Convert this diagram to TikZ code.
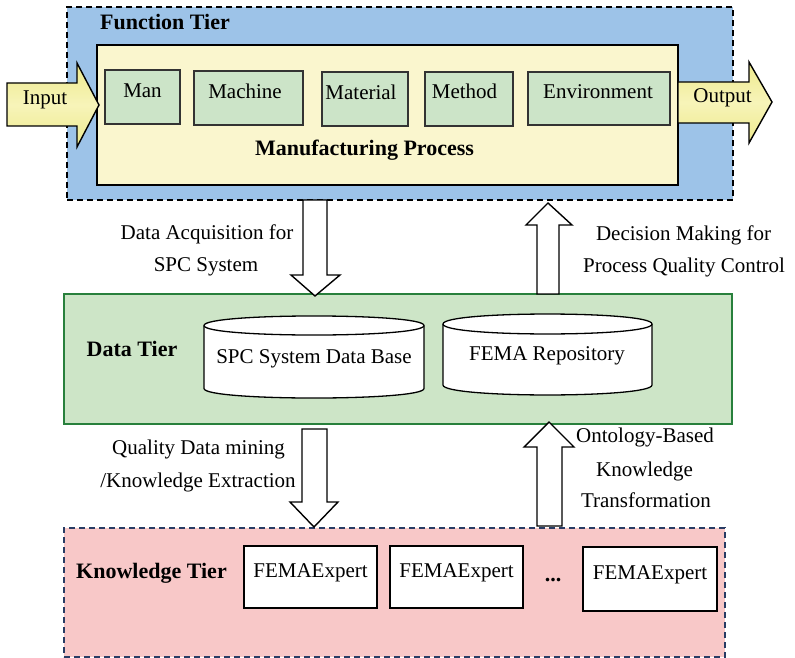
\documentclass[tikz,border=0pt]{standalone}
\usepackage{fontspec}
\setmainfont{Liberation Serif}
\usetikzlibrary{fit}
\definecolor{tierblue}{RGB}{157,195,232}
\definecolor{procyellow}{RGB}{250,246,206}
\definecolor{factgreen}{RGB}{204,228,200}
\definecolor{arrowyelA}{RGB}{238,234,140}
\definecolor{arrowyelB}{RGB}{247,244,185}
\definecolor{datagreen}{RGB}{205,229,199}
\definecolor{databorder}{RGB}{40,128,60}
\definecolor{kpink}{RGB}{248,200,200}
\definecolor{knavy}{RGB}{40,60,100}
\begin{document}
\begin{tikzpicture}[x=1pt,y=-1pt,
  txt/.style={font=\fontsize{21}{25}\selectfont, inner sep=0pt, anchor=base},
  btxt/.style={font=\fontsize{22}{26}\selectfont\bfseries, inner sep=0pt, anchor=base},
  tierF/.style={draw=black, line width=1.3pt, dash pattern=on 6pt off 4pt, fill=tierblue, inner sep=0pt},
  procbox/.style={draw=black, line width=2.4pt, fill=procyellow, inner sep=0pt},
  factbox/.style={draw=black!80, line width=1.3pt, fill=factgreen, inner sep=0pt},
  tierD/.style={draw=databorder, line width=1.4pt, fill=datagreen, inner sep=0pt},
  tierK/.style={draw=knavy, line width=1.3pt, dash pattern=on 6pt off 4pt, fill=kpink, inner sep=0pt},
  expbox/.style={draw=black, line width=1.4pt, fill=white, inner sep=0pt},
  cyl/.style={draw=black, line width=1.3pt, fill=white},
  hollow/.style={draw=black, line width=1.4pt, fill=white, line join=miter},
  yelarrow/.style={draw=black, line width=1.4pt, top color=arrowyelA, bottom color=arrowyelA, middle color=arrowyelB, line join=miter}
]
\useasboundingbox (0,0) rectangle (795,658);

% ---------- Function tier ----------
\node[tierF, fit={(67,7)(733,200)}] (ft) {};
\node[btxt] (ftl) at (165,30) {Function Tier};
\node[procbox, fit={(97,45)(678,185)}] (mp) {};
\node[factbox, fit={(105,70)(180,124)}] (man) {};
\node[factbox, fit={(194,71)(303,125)}] (mach) {};
\node[factbox, fit={(322,72)(408,126)}] (mat) {};
\node[factbox, fit={(425,72)(513,126)}] (meth) {};
\node[factbox, fit={(528,72)(670,125)}] (env) {};
\node[txt] (mantxt) at (142.5,98) {Man};
\node[txt] (machtxt) at (245,99) {Machine};
\node[txt] (mattxt) at (361,100) {Material};
\node[txt] (methtxt) at (464.5,99) {Method};
\node[txt] (envtxt) at (598,99) {Environment};
\node[btxt] (mptxt) at (364.5,155) {Manufacturing Process};

% Input / Output arrows
\draw[yelarrow] (7,83) -- (77,83) -- (77,63) -- (99,105) -- (77,147) -- (77,126) -- (7,126) -- cycle;
\node[txt] (intxt) at (45,104.5) {Input};
\draw[yelarrow] (678,82) -- (749,82) -- (749,62) -- (772,102) -- (749,143) -- (749,123) -- (678,123) -- cycle;
\node[txt] (outtxt) at (722.5,102.5) {Output};

% ---------- Data tier ----------
\node[tierD, fit={(64,294)(732,424)}] (dt) {};
\node[btxt] (dtl) at (132,356.5) {Data Tier};
% cylinder 1
\draw[cyl] (204,325.5) -- (204,388.5) .. controls (204,401.2) and (424,401.2) .. (424,388.5)
  -- (424,325.5) .. controls (424,312.8) and (204,312.8) .. (204,325.5) -- cycle;
\draw[cyl, fill=none] (204,325.5) .. controls (204,338.2) and (424,338.2) .. (424,325.5);
\node[txt] (spcdb) at (314,363) {SPC System Data Base};
% cylinder 2
\draw[cyl] (443,324) -- (443,385) .. controls (443,398.3) and (652,398.3) .. (652,385)
  -- (652,324) .. controls (652,310.7) and (443,310.7) .. (443,324) -- cycle;
\draw[cyl, fill=none] (443,324) .. controls (443,337.3) and (652,337.3) .. (652,324);
\node[txt] (fema) at (547,360.5) {FEMA Repository};

% ---------- Knowledge tier ----------
\node[tierK, fit={(64,528)(725,657)}] (kt) {};
\node[btxt] (ktl) at (151.5,578) {Knowledge Tier};
\node[expbox, fit={(244,546)(377,608)}] (ex1) {};
\node[expbox, fit={(390,546)(523,608)}] (ex2) {};
\node[expbox, fit={(583,547)(717,611)}] (ex3) {};
\node[txt] (ex1t) at (310.5,577) {FEMAExpert};
\node[txt] (ex2t) at (456.5,577) {FEMAExpert};
\node[txt] (ex3t) at (650,579) {FEMAExpert};
\node[btxt] (dots) at (553,581) {...};

% ---------- Block arrows ----------
% Function -> Data (down)
\draw[hollow] (303,200) -- (327,200) -- (327,275) -- (340,275) -- (315,296) -- (291,275) -- (303,275) -- cycle;
% Data -> Function (up)
\draw[hollow] (537,294) -- (559,294) -- (559,225) -- (572,225) -- (548,203) -- (526,225) -- (537,225) -- cycle;
% Data -> Knowledge (down)
\draw[hollow] (302,429) -- (327,429) -- (327,502) -- (338,502) -- (314,527) -- (290,502) -- (302,502) -- cycle;
% Knowledge -> Data (up)
\draw[hollow] (537,526) -- (562,526) -- (562,447) -- (574,447) -- (549,422) -- (524,447) -- (537,447) -- cycle;

% ---------- Arrow labels ----------
\node[txt] (l1a) at (207,239) {Data Acquisition for};
\node[txt] (l1b) at (206,271) {SPC System};
\node[txt] (l2a) at (683.5,240) {Decision Making for};
\node[txt] (l2b) at (684,272) {Process Quality Control};
\node[txt] (l3a) at (198.5,454) {Quality Data mining};
\node[txt] (l3b) at (198,487) {/Knowledge Extraction};
\node[txt] (l4a) at (645,442) {Ontology-Based};
\node[txt] (l4b) at (644.5,476) {Knowledge};
\node[txt] (l4c) at (646,507) {Transformation};
\end{tikzpicture}
\end{document}
